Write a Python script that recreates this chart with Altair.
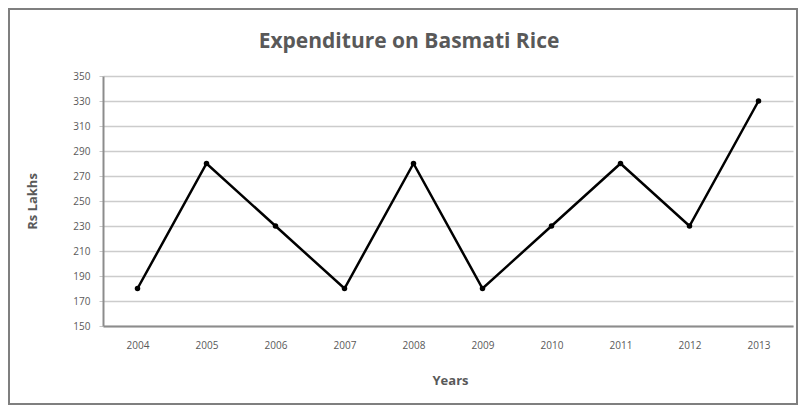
import altair as alt
import pandas as pd

years = ["2004", "2005", "2006", "2007", "2008", "2009", "2010", "2011", "2012", "2013"]
values = [180, 280, 230, 180, 280, 180, 230, 280, 230, 330]
y_ticks = [150, 170, 190, 210, 230, 250, 270, 290, 310, 330, 350]

df = pd.DataFrame({"Years": years, "Rs Lakhs": values})

TEXT = "#595959"
FONT = "Open Sans"

x_enc = alt.X(
    "Years:O",
    sort=years,
    scale=alt.Scale(type="point", padding=0.5),
    axis=alt.Axis(
        title="Years", labelAngle=0, ticks=False, labelPadding=14,
        labelFontSize=10, labelColor=TEXT, labelFont=FONT,
        domainColor="#8c8c8c", domainWidth=2, grid=False,
        titleFont=FONT, titleFontSize=13, titleFontWeight="bold", titleColor=TEXT,
        titleX=347, titleY=54, titleBaseline="middle", titleAlign="center",
    ),
)
y_enc = alt.Y(
    "Rs Lakhs:Q",
    scale=alt.Scale(domain=[150, 350], nice=False, zero=False),
    axis=alt.Axis(
        title="Rs Lakhs", values=y_ticks, tickSize=4, tickColor="#c8c8c8",
        labelPadding=9, labelFontSize=10, labelColor=TEXT, labelFont=FONT,
        domainColor="#8c8c8c", domainWidth=2,
        grid=True, gridColor="#cccccc", gridWidth=1.5,
        titleFont=FONT, titleFontSize=13, titleFontWeight="bold", titleColor=TEXT,
        titleX=-71, titleY=125, titleAngle=-90, titleBaseline="middle", titleAlign="center",
    ),
)

base = alt.Chart(df)
line = base.mark_line(color="black", strokeWidth=2.5).encode(x=x_enc, y=y_enc)
points = base.mark_circle(color="black", size=30, opacity=1).encode(x=x_enc, y=y_enc)

border = alt.Chart(pd.DataFrame({"a": [0]})).mark_rect(
    fillOpacity=0, stroke="#7f7f7f", strokeWidth=2
).encode(
    x=alt.value(-94), x2=alt.value(694), y=alt.value(-67), y2=alt.value(328)
)

chart = alt.layer(border, line, points).properties(
    width=690,
    height=250,
    padding={"left": 95, "top": 68, "right": 5, "bottom": 79},
    autosize=alt.AutoSizeParams(type="none"),
    title=alt.TitleParams(
        "Expenditure on Basmati Rice", font=FONT, fontSize=21, fontWeight="bold",
        color=TEXT, anchor="middle", frame="group", dx=-39, offset=-65,
        baseline="bottom",
    ),
).configure_view(stroke=None)

chart.save("out.html", embed_options={"renderer": "svg", "actions": False})
